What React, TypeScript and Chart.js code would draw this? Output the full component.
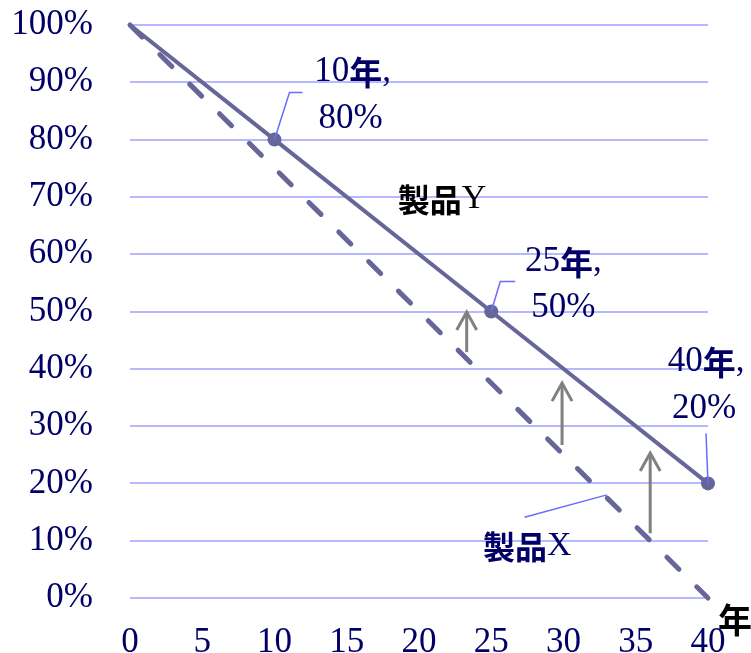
import { useEffect, useRef } from "react";
import { Chart, registerables } from "chart.js";

Chart.register(...registerables);

// Remaining share (%) over time (years)
const yearsY = [0, 10, 25, 40];
const shareY = [100, 80, 50, 20];
const yearsX = [0, 40];
const shareX = [100, 0];
const labelledYears = [10, 25, 40];
const seriesNames = ["製品Y", "製品X"];
const axisTitleX = "年";

// Gap arrows between the two products (year, from %, to %)
const arrowYears = [23.3, 29.9, 36.0];
const arrowFrom = [42.9, 26.7, 11.3];
const arrowTo = [49.9, 37.5, 25.3];

const LINE = "#666699";
const TEXT = "#000066";
const LEADER = "#6b6bff";
const GRID = "#b8b8ff";
const ARROW = "#808080";
const SERIF = '"Liberation Serif", "Times New Roman", serif';
const CJK = '"Noto Sans CJK JP", sans-serif';

// Pixel offsets of the value call-outs relative to their points
const calloutLayout: Record<number, { l1: [number, number]; l2: [number, number]; leader: [number, number][] }> = {
  10: { l1: [78, -68], l2: [76, -21], leader: [[15, -47], [28, -47]] },
  25: { l1: [72, -50], l2: [72, -4], leader: [[9, -30], [24, -30]] },
  40: { l1: [-2, -122], l2: [-4, -75], leader: [[-2, -50]] },
};
// Series name positions in data units, plus leader for the dashed line
const nameLayout = [
  { x: 21.6, y: 69.6, color: "#000000", leader: null as null | [number, number][] },
  { x: 27.5, y: 9.1, color: TEXT, leader: [[27.3, 14.1], [33.0, 18.0]] as [number, number][] },
];

function drawRich(ctx: CanvasRenderingContext2D, text: string, cx: number, cy: number, size: number, color: string) {
  const parts: { t: string; cjk: boolean }[] = [];
  for (const ch of text) {
    const cjk = /[\u3000-\u9fff\uff00-\uffef]/.test(ch);
    const last = parts[parts.length - 1];
    if (last && last.cjk === cjk) last.t += ch;
    else parts.push({ t: ch, cjk });
  }
  const fontOf = (cjk: boolean) => (cjk ? `bold ${size - 2}px ${CJK}` : `${size}px ${SERIF}`);
  let total = 0;
  for (const p of parts) {
    ctx.font = fontOf(p.cjk);
    total += ctx.measureText(p.t).width;
  }
  let x = cx - total / 2;
  ctx.fillStyle = color;
  ctx.textAlign = "left";
  ctx.textBaseline = "middle";
  for (const p of parts) {
    ctx.font = fontOf(p.cjk);
    ctx.fillText(p.t, x, cy + (p.cjk ? 1 : 0));
    x += ctx.measureText(p.t).width;
  }
}

const overlay = {
  id: "overlay",
  afterDatasetsDraw(chart: any) {
    const { ctx, scales } = chart;
    const xs = scales.x;
    const ys = scales.y;
    ctx.save();

    // arrows
    ctx.strokeStyle = ARROW;
    ctx.lineWidth = 3;
    ctx.lineCap = "butt";
    arrowYears.forEach((yr, i) => {
      const px = xs.getPixelForValue(yr);
      const y0 = ys.getPixelForValue(arrowFrom[i]);
      const y1 = ys.getPixelForValue(arrowTo[i]);
      ctx.beginPath();
      ctx.moveTo(px, y0);
      ctx.lineTo(px, y1 + 1);
      ctx.stroke();
      ctx.beginPath();
      ctx.moveTo(px - 10, y1 + 18);
      ctx.lineTo(px, y1);
      ctx.lineTo(px + 10, y1 + 18);
      ctx.stroke();
    });

    // value call-outs
    labelledYears.forEach((yr) => {
      const idx = yearsY.indexOf(yr);
      const v = shareY[idx];
      const px = xs.getPixelForValue(yr);
      const py = ys.getPixelForValue(v);
      const lay = calloutLayout[yr];
      ctx.strokeStyle = LEADER;
      ctx.lineWidth = 1.5;
      ctx.beginPath();
      ctx.moveTo(px, py);
      lay.leader.forEach(([dx, dy]) => ctx.lineTo(px + dx, py + dy));
      ctx.stroke();
      drawRich(ctx, `${yr}年,`, px + lay.l1[0], py + lay.l1[1], 35, TEXT);
      drawRich(ctx, `${v}%`, px + lay.l2[0], py + lay.l2[1], 35, TEXT);
    });

    // series names
    seriesNames.forEach((name, i) => {
      const n = nameLayout[i];
      if (n.leader) {
        ctx.strokeStyle = LEADER;
        ctx.lineWidth = 1.5;
        ctx.beginPath();
        n.leader.forEach(([dx, dy], k) => {
          const lx = xs.getPixelForValue(dx);
          const ly = ys.getPixelForValue(dy);
          if (k === 0) ctx.moveTo(lx, ly);
          else ctx.lineTo(lx, ly);
        });
        ctx.stroke();
      }
      drawRich(ctx, name, xs.getPixelForValue(n.x), ys.getPixelForValue(n.y), 34, n.color);
    });

    // x axis title
    ctx.font = `bold 34px ${CJK}`;
    ctx.fillStyle = "#000000";
    ctx.textAlign = "left";
    ctx.textBaseline = "middle";
    ctx.fillText(axisTitleX, xs.right + 10, ys.bottom + 22);

    ctx.restore();
  },
};

export default function App() {
  const ref = useRef<HTMLCanvasElement>(null);

  useEffect(() => {
    if (!ref.current) return;
    const chart = new Chart(ref.current, {
      type: "line",
      data: {
        datasets: [
          {
            label: seriesNames[0],
            data: yearsY.map((x, i) => ({ x, y: shareY[i] })),
            borderColor: LINE,
            backgroundColor: LINE,
            borderWidth: 4,
            pointRadius: yearsY.map((x) => (labelledYears.includes(x) ? 7 : 0)),
            pointBorderWidth: 0,
            pointBackgroundColor: LINE,
            clip: false as any,
          },
          {
            label: seriesNames[1],
            data: yearsX.map((x, i) => ({ x, y: shareX[i] })),
            borderColor: LINE,
            borderWidth: 5,
            borderDash: [17, 25],
            borderCapStyle: "round",
            pointRadius: 0,
            clip: false as any,
          },
        ],
      },
      options: {
        animation: false,
        responsive: false,
        devicePixelRatio: 1,
        layout: { padding: { left: 0, right: 43, top: 25, bottom: 0 } },
        plugins: { legend: { display: false }, tooltip: { enabled: false } },
        scales: {
          x: {
            type: "linear",
            min: 0,
            max: 40,
            ticks: {
              stepSize: 5,
              color: TEXT,
              font: { family: SERIF, size: 35 },
              padding: 24,
              maxRotation: 0,
            },
            grid: { display: false, drawTicks: false },
            border: { display: false },
            afterFit: (s: any) => {
              s.height = 55;
              s.paddingLeft = 0;
              s.paddingRight = 0;
            },
          },
          y: {
            min: 0,
            max: 100,
            ticks: {
              stepSize: 10,
              color: TEXT,
              font: { family: SERIF, size: 35 },
              padding: 37,
              callback: (v: any) => `${v}%`,
            },
            grid: { color: GRID, lineWidth: 2, drawTicks: false },
            border: { display: false },
            afterFit: (s: any) => {
              s.width = 130;
              s.paddingTop = 0;
              s.paddingBottom = 0;
            },
          },
        },
      },
      plugins: [overlay],
    });
    return () => chart.destroy();
  }, []);

  return (
    <div style={{ position: "absolute", left: 0, top: 0, width: 751, height: 653, background: "#ffffff" }}>
      <canvas ref={ref} width={751} height={653} style={{ display: "block" }} />
    </div>
  );
}
